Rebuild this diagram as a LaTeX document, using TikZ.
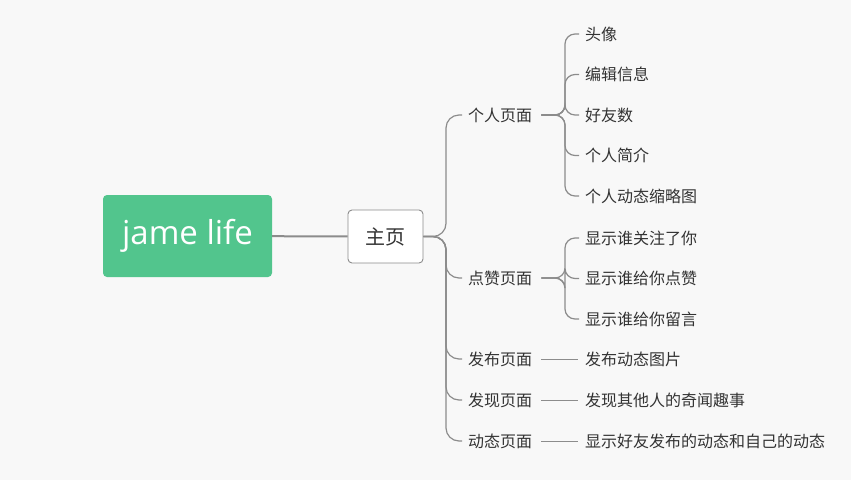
\documentclass[tikz,border=0pt]{standalone}
\usepackage{fontspec}
\setmainfont{Open Sans}
\newfontfamily\cjk{Noto Sans CJK SC}
\definecolor{rootgreen}{HTML}{52C58D}
\definecolor{linegray}{HTML}{8C8C8C}
\definecolor{bggray}{HTML}{F8F8F8}
\definecolor{textgray}{HTML}{333333}

\begin{document}
\begin{tikzpicture}[x=1pt, y=-1pt]
        \tikzset{
  rootnode/.style={
    rectangle,
    rounded corners=4pt,
    fill=rootgreen,
    text=white,
    minimum width=169pt,
    minimum height=82pt,
    font=\fontsize{33}{40}\selectfont
  },
  hubnode/.style={
    rectangle,
    rounded corners=4pt,
    draw=linegray,
    line width=0.9pt,
    fill=white,
    minimum width=75pt,
    minimum height=53pt,
    text=textgray,
    font=\cjk\fontsize{20}{24}\selectfont
  },
  topicnode/.style={
    anchor=west,
    inner xsep=4pt,
    inner ysep=2pt,
    text=textgray,
    font=\cjk\fontsize{16}{19}\selectfont
  },
  link/.style={
    draw=linegray,
    line width=1.2pt,
    rounded corners=13pt
  }
}

\fill[bggray] (0,0) rectangle (851,480);
\useasboundingbox (0,0) rectangle (851,480);

\node [rootnode] (root) at (187.5,236) {jame life};
\node [hubnode] (home) at (385.5,236.5) {主页};

\foreach \n/\t/\y in {person/个人页面/115,like/点赞页面/278,post/发布页面/359,find/发现页面/400,feed/动态页面/441}
  \node [topicnode] (\n) at (464,\y) {\t};

\foreach \t [count=\i] in {头像,编辑信息,好友数,个人简介,个人动态缩略图}
  \node [topicnode] (person-\i) at (581,{34+40.5*(\i-1)}) {\t};

\foreach \t [count=\i] in {显示谁关注了你,显示谁给你点赞,显示谁给你留言}
  \node [topicnode] (like-\i) at (581,{238+40.5*(\i-1)}) {\t};

\node [topicnode] (post-1) at (581,359) {发布动态图片};
\node [topicnode] (find-1) at (581,400) {发现其他人的奇闻趣事};
\node [topicnode] (feed-1) at (581,441) {显示好友发布的动态和自己的动态};

\draw [link, line width=2pt] (root) -- (home);

\foreach \n in {person,like,post,find,feed}
  \draw [link, shorten >=2pt] (home.east) -- (446,236.5) |- (\n.west);

\foreach \i in {1,...,5}
  \draw [link, rounded corners=10pt, shorten <=5pt, shorten >=2pt] (person.east) -- (565,115) |- (person-\i.west);

\foreach \i in {1,...,3}
  \draw [link, rounded corners=10pt, shorten <=5pt, shorten >=2pt] (like.east) -- (565,278) |- (like-\i.west);

\foreach \n in {post,find,feed}
  \draw [link, line width=1pt, shorten <=5pt, shorten >=3pt] (\n.east) -- (\n-1.west);
      \end{tikzpicture}
\end{document}
